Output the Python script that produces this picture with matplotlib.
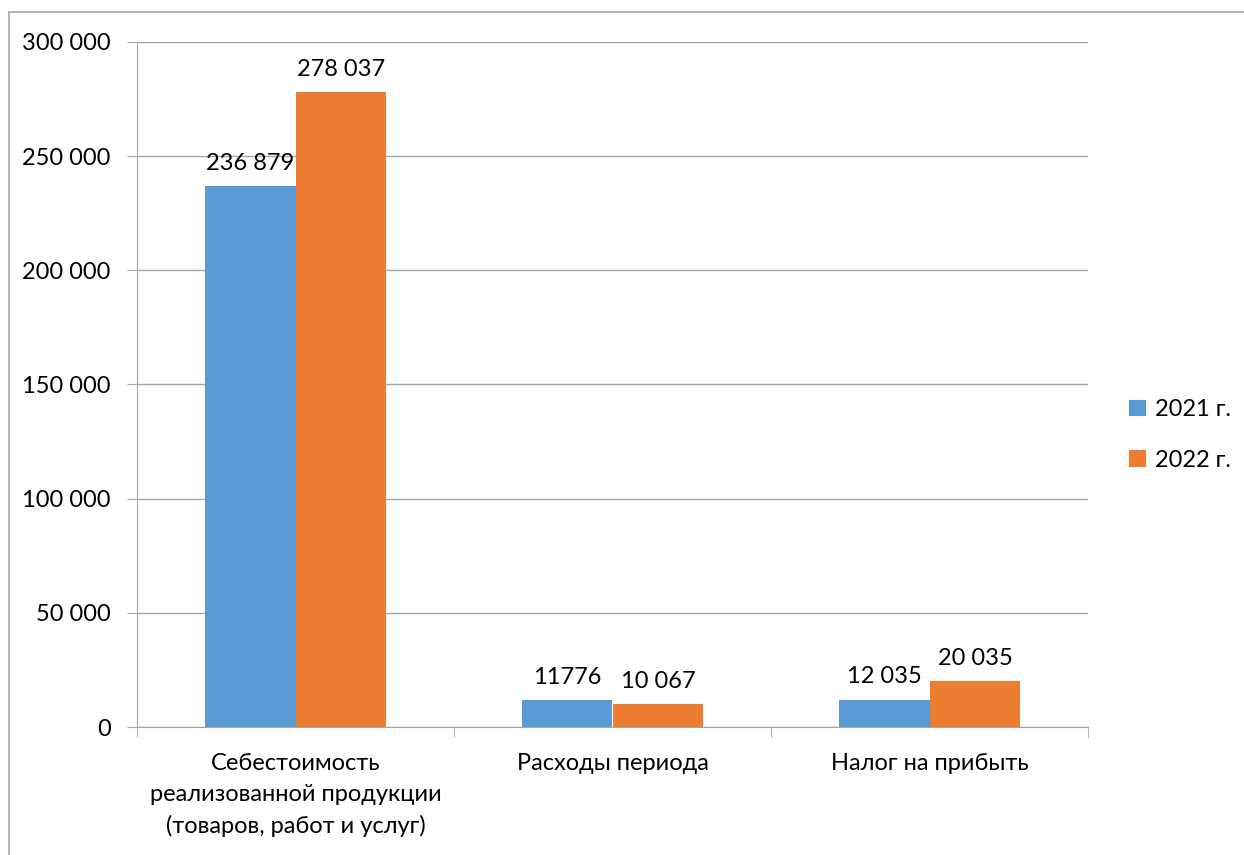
import matplotlib
matplotlib.use("Agg")
import matplotlib.pyplot as plt
from matplotlib.lines import Line2D
from matplotlib.ticker import FuncFormatter
import numpy as np

plt.rcParams['font.family'] = ['Lato', 'DejaVu Sans']

categories = ["Себестоимость\nреализованной продукции\n(товаров, работ и услуг)",
              "Расходы периода", "Налог на прибыть"]
values_2021 = [236879, 11776, 12035]
values_2022 = [278037, 10067, 20035]
labels_2021 = ["236 879", "11776", "12 035"]
labels_2022 = ["278 037", "10 067", "20 035"]
series_names = ["2021 г.", "2022 г."]

blue = "#5B9BD5"
orange = "#ED7D31"
grid_col = "#A6A6A6"
fs = 17

W, H = 1244, 855
fig = plt.figure(figsize=(W / 100, H / 100), dpi=100)
ax = fig.add_axes([137 / W, 1 - 727 / H, (1088 - 137) / W, (727 - 42) / H])

x = np.arange(len(categories))
bw = 0.287
b1 = ax.bar(x - bw / 2, values_2021, bw, color=blue, label=series_names[0])
b2 = ax.bar(x + bw / 2, values_2022, bw, color=orange, label=series_names[1])

for bars, labs in ((b1, labels_2021), (b2, labels_2022)):
    for rect, lab in zip(bars, labs):
        ax.annotate(lab, (rect.get_x() + rect.get_width() / 2, rect.get_height()),
                    xytext=(0, 9), textcoords="offset points",
                    ha="center", va="bottom", fontsize=fs, color="#000000")

ax.set_xlim(-0.5, 2.5)
ax.set_ylim(0, 300000)
ax.set_yticks(np.arange(0, 300001, 50000))
ax.yaxis.set_major_formatter(FuncFormatter(lambda v, p: f"{int(v):,}".replace(",", " ")))
ax.grid(axis="y", color=grid_col, linewidth=1)
ax.set_axisbelow(True)

ax.set_xticks(x)
ax.set_xticklabels(categories, fontsize=fs, linespacing=1.55)
ax.set_xticks([-0.5, 0.5, 1.5, 2.5], minor=True)
ax.tick_params(axis="x", which="major", length=0, pad=19)
ax.tick_params(axis="x", which="minor", length=7, color=grid_col)
ax.tick_params(axis="y", length=7, color=grid_col, labelsize=fs, pad=12)

for s in ("top", "right"):
    ax.spines[s].set_visible(False)
ax.spines["left"].set_color(grid_col)
ax.spines["bottom"].set_color(grid_col)

leg = fig.legend(handles=[b1, b2], labels=series_names, loc="center left",
                 bbox_to_anchor=(1108 / W, 1 - 435 / H), frameon=False,
                 fontsize=fs, handlelength=0.7, handleheight=0.7,
                 handletextpad=0.4, labelspacing=1.25)

# outer chart frame (only top and left edges are visible)
fig.add_artist(Line2D([9 / W, 1], [1 - 12 / H, 1 - 12 / H], color=grid_col, lw=1.2))
fig.add_artist(Line2D([9 / W, 9 / W], [0, 1 - 12 / H], color=grid_col, lw=1.2))

fig.savefig("out.png", dpi=100)
